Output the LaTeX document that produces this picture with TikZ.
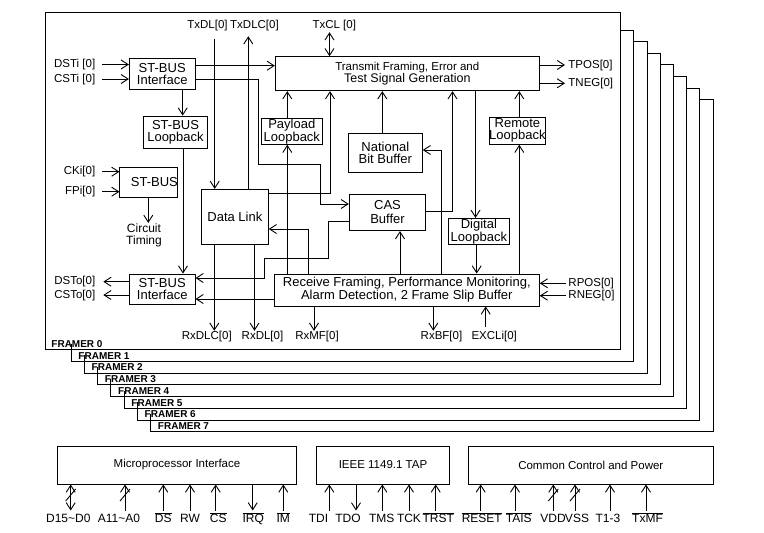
\documentclass[tikz,border=0pt]{standalone}
\usepackage{fontspec}
\setmainfont{Liberation Sans}
\usetikzlibrary{arrows.meta,calc}

\newcommand{\fs}[1]{\fontsize{#1}{12}\selectfont}
\newcommand{\ovl}[1]{\ensuremath{\overline{\hbox{#1}}}}

\begin{document}
\begin{tikzpicture}[
    x=1pt, y=-1pt, line width=0.9pt,
    box/.style={draw, inner sep=0pt, align=center, font=\fs{13}},
    sig/.style={inner sep=0pt, font=\fs{11.5}, text height=8.3pt, text depth=2.2pt},
    bsig/.style={inner sep=0pt, font=\fs{12}, text height=8.7pt, text depth=0pt},
    fr/.style={inner sep=0pt, anchor=west, font=\fs{10}\bfseries},
    arr/.style={-{Straight Barb[length=7pt,width=9pt]}},
    rarr/.style={{Straight Barb[length=7pt,width=9pt]}-},
    darr/.style={{Straight Barb[length=7pt,width=9pt]}-{Straight Barb[length=7pt,width=9pt]}},
  ]
  \useasboundingbox (0,0) rectangle (764,533);

  % framer stack
  \foreach \n in {7,6,...,1} {
    \pgfmathsetmacro{\L}{71+13.25*(\n-1)}
    \pgfmathsetmacro{\T}{30+11.6*(\n-1)}
    \pgfmathsetmacro{\R}{620.7+13.2*\n}
    \pgfmathsetmacro{\B}{349.5+11.75*\n}
    \draw (\R-13.2,\T) -- (\R,\T) -- (\R,\B) -- (\L,\B) -- (\L,\B-17.75);
    \node[fr] (fr\n) at (\L+7,\B-5.6) {FRAMER \n};
  }
  \draw (45,12) rectangle (620.7,349.5);
  \node[fr] (fr0) at (51,343.8) {FRAMER 0};

  % blocks of framer 0
  \node[box, minimum width=65.7, minimum height=30.7] (stbin) at (162.2,73.7) {ST-BUS\\Interface};
  \node[box, minimum width=64.4, minimum height=32.3] (stblp) at (175.5,132.2) {ST-BUS\\Loopback};
  \node[box, minimum width=53.7, minimum height=30] (stbclk) at (148.9,182.3) {\hspace*{11pt}ST-BUS};
  \node[box, minimum width=65.7, minimum height=30.3] (stbout) at (162.2,289.2) {ST-BUS\\Interface};
  \node[box, minimum width=264, minimum height=34] (tx) at (407.3,73.7)
    {\fs{11.5}Transmit Framing, Error and\\\fs{12.5}Test Signal Generation};
  \node[box, minimum width=61.7, minimum height=25.9] (plb) at (291.8,131.3) {Payload\\Loopback};
  \node[box, minimum width=74, minimum height=39.4] (nbb) at (385.3,153) {National\\Bit Buffer};
  \node[box, minimum width=56.3, minimum height=26.9] (rlb) at (517.4,130.8) {Remote\\Loopback};
  \node[box, minimum width=66.8, minimum height=54.9] (dl) at (234.9,216.8) {Data Link};
  \node[box, minimum width=76.4, minimum height=36.7, font=\fontsize{13}{14}\selectfont] (cas) at (387.5,212.3) {CAS\\Buffer};
  \node[box, minimum width=60.8, minimum height=25.7] (dlb) at (478.9,231.2) {Digital\\Loopback};
  \node[box, minimum width=265, minimum height=32] (rx) at (406.8,290)
    {Receive Framing, Performance Monitoring,\\Alarm Detection, 2 Frame Slip Buffer};
  \node[align=center, inner sep=0pt, font=\fs{12}] (ctim) at (144,235) {Circuit\\Timing};

  % signals of framer 0
  \node[sig, anchor=east] (dsti) at (95.7,64.5) {DSTi [0]};
  \node[sig, anchor=east] (csti) at (95.7,79) {CSTi [0]};
  \node[sig, anchor=east] (cki) at (95.7,171.7) {CKi[0]};
  \node[sig, anchor=east] (fpi) at (95.7,191.7) {FPi[0]};
  \node[sig, anchor=east] (dsto) at (95.7,281.7) {DSTo[0]};
  \node[sig, anchor=east] (csto) at (95.7,295) {CSTo[0]};
  \node[sig] (txdl) at (207.5,25) {TxDL[0]};
  \node[sig] (txdlc) at (254.5,25) {TxDLC[0]};
  \node[sig] (txcl) at (334.3,25) {TxCL [0]};
  \node[sig, anchor=west] (tpos) at (568,65) {TPOS[0]};
  \node[sig, anchor=west] (tneg) at (568,83.3) {TNEG[0]};
  \node[sig, anchor=west] (rpos) at (568,283.3) {RPOS[0]};
  \node[sig, anchor=west] (rneg) at (568,295.7) {RNEG[0]};
  \node[sig] (rxdlc) at (206.8,336.5) {RxDLC[0]};
  \node[sig] (rxdl) at (262.5,336.5) {RxDL[0]};
  \node[sig] (rxmf) at (317,336.5) {RxMF[0]};
  \node[sig] (rxbf) at (441.5,336.5) {RxBF[0]};
  \node[sig] (excli) at (494.2,336.5) {EXCLi[0]};

  \draw[arr, shorten <=6pt] (dsti) -- (dsti -| stbin.west);
  \draw[arr, shorten <=6pt] (csti) -- (csti -| stbin.west);
  \draw[arr, shorten <=6.6pt] (cki) -- (cki -| stbclk.west);
  \draw[arr, shorten <=6.6pt] (fpi) -- (fpi -| stbclk.west);
  \draw[arr, shorten >=7.6pt] (stbout.west |- dsto) -- (dsto);
  \draw[arr, shorten >=7.6pt] (stbout.west |- csto) -- (csto);
  \draw[arr, shorten <=8pt] (214.7,0 |- txdl.south) -- (214.7,0 |- dl.north);
  \draw[arr, shorten >=5.5pt] (248.3,0 |- dl.north) -- (248.3,0 |- txdlc.south);
  \draw[darr, shorten <=1.5pt] (329.5,0 |- txcl.south) -- (329.5,0 |- tx.north);
  \draw[arr, shorten >=3pt] (tx.east |- tpos) -- (tpos);
  \draw[arr, shorten >=3pt] (tx.east |- tneg) -- (tneg);
  \draw[arr, shorten <=2pt] (rpos) -- (rx.east |- rpos);
  \draw[arr, shorten <=2pt] (rneg) -- (rx.east |- rneg);
  \draw[arr] (214.3,0 |- dl.south) -- (214.3,0 |- rxdlc.north);
  \draw[arr] (254.5,0 |- dl.south) -- (254.5,0 |- rxdl.north);
  \draw[arr] (314,0 |- rx.south) -- (314,0 |- rxmf.north);
  \draw[arr] (433.3,0 |- rx.south) -- (433.3,0 |- rxbf.north);
  \draw[arr, shorten <=4pt] (485.7,0 |- excli.north) -- (485.7,0 |- rx.south);

  \draw[arr] (stbin.east |- 0,65.7) -- (tx.west |- 0,65.7);
  \draw[arr] (stbin.east |- 0,79) -| (258.5,164) -- (320,164) |- (cas.west |- 0,204);
  \draw[arr] (182.7,0 |- stbin.south) -- (182.7,0 |- stblp.north);
  \draw[arr] (183,0 |- stblp.south) -- (183,0 |- stbout.north);
  \draw[arr] (148.3,0 |- stbclk.south) -- (148.3,0 |- ctim.north);
  \draw[arr] (287.3,0 |- plb.north) -- (287.3,0 |- tx.south);
  \draw[arr] (287.3,0 |- rx.north) -- (287.3,0 |- plb.south);
  \draw[arr] (dl.east |- 0,193.3) -| (330,0 |- tx.south);
  \draw[arr] (308,0 |- rx.north) |- (dl.east |- 0,229);
  \draw[arr] (cas.west |- 0,221.7) -- (328.3,221.7) |- (264.5,258.3) |- (stbout.east |- 0,278);
  \draw[arr] (rx.west |- 0,299) -- (stbout.east |- 0,299);
  \draw[arr] (382.3,0 |- nbb.north) -- (382.3,0 |- tx.south);
  \draw[arr] (441,0 |- rx.north) |- (nbb.east |- 0,150);
  \draw[arr] (cas.east |- 0,211.7) -| (452.5,0 |- tx.south);
  \draw[arr] (400,0 |- rx.north) -- (400,0 |- cas.south);
  \draw[arr] (475.5,0 |- tx.south) -- (475.5,0 |- dlb.north);
  \draw[arr] (476.7,0 |- dlb.south) -- (476.7,0 |- rx.north);
  \draw[arr] (519.3,0 |- rlb.north) -- (519.3,0 |- tx.south);
  \draw[arr] (519.3,0 |- rx.north) -- (519.3,0 |- rlb.south);

  % common blocks
  \node[box, font=\fs{11.5}, minimum width=239.4, minimum height=38] (mp) at (177,465) {Microprocessor Interface};
  \node[box, font=\fs{11.5}, minimum width=132.6, minimum height=38] (tap) at (383,465) {IEEE 1149.1 TAP};
  \node[box, font=\fs{11.5}, minimum width=245, minimum height=38] (ccp) at (590.8,465) {Common Control and Power};

  \foreach \lx/\tx/\bx/\st/\t [count=\i] in {
      70.7/68.3/mp/darr/{D15\textasciitilde{}D0},
      125/119/mp/arr/{A11\textasciitilde{}A0},
      163.3/163.3/mp/arr/{\ovl{DS}},
      190/190/mp/arr/{RW},
      215.7/218.3/mp/arr/{\ovl{CS}},
      252.7/253.3/mp/rarr/{\ovl{IRQ}},
      283.3/283.3/mp/arr/{\ovl{IM}},
      329.3/318.5/tap/arr/{TDI},
      356/348/tap/rarr/{TDO},
      382.3/381.7/tap/arr/{TMS},
      409/409/tap/arr/{TCK},
      435.7/438.3/tap/arr/{\ovl{TRST}},
      480.7/481.8/ccp/arr/{\ovl{RESET}},
      515/518.8/ccp/arr/{\ovl{TAIS}},
      553.3/553/ccp/arr/{VDD},
      575/577/ccp/arr/{VSS},
      610/608/ccp/arr/{T1-3},
      646/647.5/ccp/arr/{\ovl{TxMF}}} {
    \node[bsig] (bp\i) at (\tx,518.3) {\t};
    \draw[\st, shorten <=3pt] (\lx,0 |- bp\i.north) -- (\lx,0 |- \bx.south);
  }
  % bus slashes
  \foreach \lx in {70.7,125,553.3,575}
    \draw (\lx-5,501) -- (\lx+5,489);
\end{tikzpicture}
\end{document}
